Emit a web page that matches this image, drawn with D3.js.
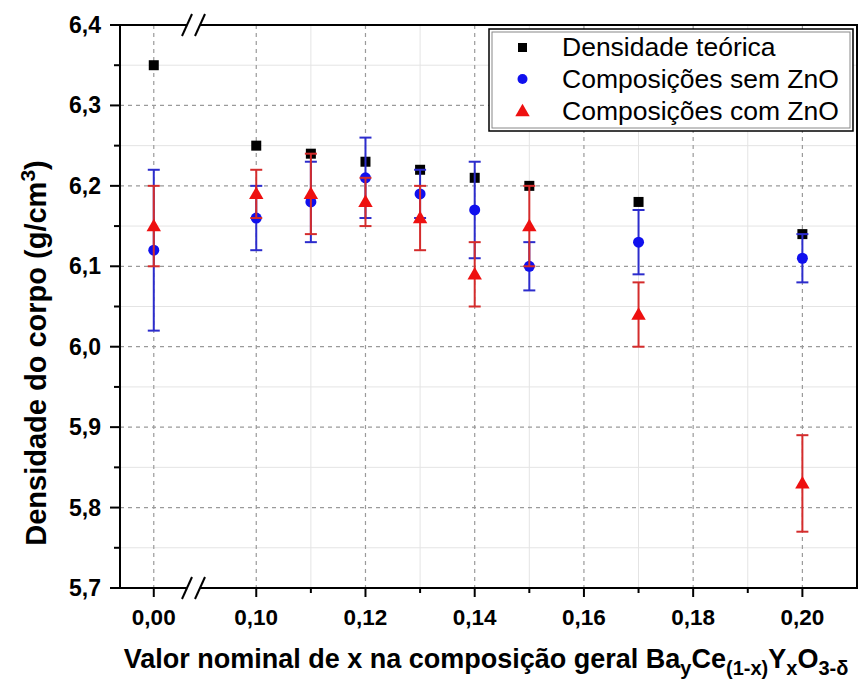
<!DOCTYPE html>
<html>
<head>
<meta charset="utf-8">
<script src="https://cdn.jsdelivr.net/npm/d3@7"></script>
<style>
  body { margin: 0; background: #fff; }
  svg { font-family: "Liberation Sans", Arial, sans-serif; }
</style>
</head>
<body>
<svg id="chart" width="865" height="684"></svg>
<script>
// values
var xValues = [0.00, 0.10, 0.11, 0.12, 0.13, 0.14, 0.15, 0.17, 0.20];
var densTeorica = [6.35, 6.25, 6.24, 6.23, 6.22, 6.21, 6.20, 6.18, 6.14];
var semZnO = [6.12, 6.16, 6.18, 6.21, 6.19, 6.17, 6.10, 6.13, 6.11];
var semZnOErr = [0.10, 0.04, 0.05, 0.05, 0.03, 0.06, 0.03, 0.04, 0.03];
var comZnO = [6.15, 6.19, 6.19, 6.18, 6.16, 6.09, 6.15, 6.04, 5.83];
var comZnOErr = [0.05, 0.03, 0.05, 0.03, 0.04, 0.04, 0.05, 0.04, 0.06];

var xMajor = [0.00, 0.10, 0.12, 0.14, 0.16, 0.18, 0.20];
var xMinor = [0.11, 0.13, 0.15, 0.17, 0.19];
var yMajor = [5.7, 5.8, 5.9, 6.0, 6.1, 6.2, 6.3, 6.4];
var yMinor = [5.75, 5.85, 5.95, 6.05, 6.15, 6.25, 6.35];
var legendLabels = ["Densidade teórica", "Composições sem ZnO", "Composições com ZnO"];

var svg = d3.select("#chart");
var pLeft = 120, pRight = 857, pTop = 25, pBottom = 588;
var breakL = 187, breakR = 200;

// broken x axis: two linear pieces
var x = d3.scaleLinear()
  .domain([-0.0062, 0.0061, 0.0897, 0.21])
  .range([pLeft, breakL, breakR, pRight]);
var y = d3.scaleLinear().domain([5.7, 6.4]).range([pBottom, pTop]);
var fmt = function (v, n) { return v.toFixed(n).replace(".", ","); };

// grid
var grid = svg.append("g");
grid.selectAll(".vmin").data(xMinor).enter().append("line")
  .attr("x1", x).attr("x2", x).attr("y1", pTop).attr("y2", pBottom)
  .attr("stroke", "#e4e4e4").attr("stroke-width", 1);
grid.selectAll(".hmin").data(yMinor).enter().append("line")
  .attr("x1", pLeft).attr("x2", pRight).attr("y1", y).attr("y2", y)
  .attr("stroke", "#e4e4e4").attr("stroke-width", 1);
grid.selectAll(".vmaj").data(xMajor).enter().append("line")
  .attr("x1", x).attr("x2", x).attr("y1", pTop).attr("y2", pBottom)
  .attr("stroke", "#9a9a9a").attr("stroke-width", 1.2).attr("stroke-dasharray", "4,4");
grid.selectAll(".hmaj").data(yMajor.slice(1, -1)).enter().append("line")
  .attr("x1", pLeft).attr("x2", pRight).attr("y1", y).attr("y2", y)
  .attr("stroke", "#9a9a9a").attr("stroke-width", 1.2).attr("stroke-dasharray", "4,4");

// frame
var frame = svg.append("g").attr("stroke", "#000").attr("stroke-width", 2).attr("fill", "none");
frame.append("line").attr("x1", pLeft).attr("x2", pLeft).attr("y1", pTop - 1).attr("y2", pBottom + 1);
frame.append("line").attr("x1", pRight).attr("x2", pRight).attr("y1", pTop - 1).attr("y2", pBottom + 1);
[pTop, pBottom].forEach(function (yy) {
  frame.append("line").attr("x1", pLeft).attr("x2", breakL).attr("y1", yy).attr("y2", yy);
  frame.append("line").attr("x1", breakR).attr("x2", pRight).attr("y1", yy).attr("y2", yy);
  frame.append("line").attr("x1", breakL - 5).attr("x2", breakL + 5).attr("y1", yy + 11).attr("y2", yy - 11);
  frame.append("line").attr("x1", breakR - 5).attr("x2", breakR + 5).attr("y1", yy + 11).attr("y2", yy - 11);
});

// ticks
var ax = svg.append("g").attr("stroke", "#000").attr("stroke-width", 2);
ax.selectAll(".xt").data(xMajor).enter().append("line")
  .attr("x1", x).attr("x2", x).attr("y1", pBottom).attr("y2", pBottom + 9);
ax.selectAll(".xm").data(xMinor).enter().append("line")
  .attr("x1", x).attr("x2", x).attr("y1", pBottom).attr("y2", pBottom + 5);
ax.selectAll(".yt").data(yMajor).enter().append("line")
  .attr("x1", pLeft - 10).attr("x2", pLeft).attr("y1", y).attr("y2", y);
ax.selectAll(".ym").data(yMinor).enter().append("line")
  .attr("x1", pLeft - 6).attr("x2", pLeft).attr("y1", y).attr("y2", y);

svg.selectAll(".xl").data(xMajor).enter().append("text")
  .attr("x", x).attr("y", pBottom + 37)
  .attr("text-anchor", "middle").attr("font-size", 22.5).attr("font-weight", "bold")
  .text(function (d) { return fmt(d, 2); });
svg.selectAll(".yl").data(yMajor).enter().append("text")
  .attr("x", pLeft - 19).attr("y", function (d) { return y(d) + 8; })
  .attr("text-anchor", "end").attr("font-size", 23).attr("font-weight", "bold")
  .text(function (d) { return fmt(d, 1); });

// axis titles
var xt = svg.append("text").attr("x", 486).attr("y", 668)
  .attr("text-anchor", "middle").attr("font-size", 27).attr("font-weight", "bold");
xt.append("tspan").text("Valor nominal de x na composição geral Ba");
xt.append("tspan").attr("font-size", 20).attr("dy", 7).text("y");
xt.append("tspan").attr("dy", -7).text("Ce");
xt.append("tspan").attr("font-size", 20).attr("dy", 7).text("(1-x)");
xt.append("tspan").attr("dy", -7).text("Y");
xt.append("tspan").attr("font-size", 20).attr("dy", 7).text("x");
xt.append("tspan").attr("dy", -7).text("O");
xt.append("tspan").attr("font-size", 20).attr("dy", 7).text("3-δ");

var yt = svg.append("text").attr("transform", "translate(46,353) rotate(-90)")
  .attr("text-anchor", "middle").attr("font-size", 29).attr("font-weight", "bold");
yt.append("tspan").text("Densidade do corpo (g/cm");
yt.append("tspan").attr("font-size", 21).attr("dy", -11).text("3");
yt.append("tspan").attr("dy", 11).text(")");

// series
var idx = d3.range(xValues.length);
var blue = "#1010ee", blueBar = "#2c2ccc", red = "#ee1010", redBar = "#d42c2c";

svg.append("g").selectAll("rect").data(idx).enter().append("rect")
  .attr("x", function (i) { return x(xValues[i]) - 5; })
  .attr("y", function (i) { return y(densTeorica[i]) - 5; })
  .attr("width", 10).attr("height", 10).attr("fill", "#000");

function errorBars(vals, errs, color) {
  var g = svg.append("g").attr("stroke", color).attr("stroke-width", 2);
  g.selectAll(".v").data(idx).enter().append("line")
    .attr("x1", function (i) { return x(xValues[i]); })
    .attr("x2", function (i) { return x(xValues[i]); })
    .attr("y1", function (i) { return y(vals[i] - errs[i]); })
    .attr("y2", function (i) { return y(vals[i] + errs[i]); });
  [-1, 1].forEach(function (s) {
    g.selectAll(".c" + s).data(idx).enter().append("line")
      .attr("x1", function (i) { return x(xValues[i]) - 6; })
      .attr("x2", function (i) { return x(xValues[i]) + 6; })
      .attr("y1", function (i) { return y(vals[i] + s * errs[i]); })
      .attr("y2", function (i) { return y(vals[i] + s * errs[i]); });
  });
}

errorBars(semZnO, semZnOErr, blueBar);
svg.append("g").selectAll("circle").data(idx).enter().append("circle")
  .attr("cx", function (i) { return x(xValues[i]); })
  .attr("cy", function (i) { return y(semZnO[i]); })
  .attr("r", 5.5).attr("fill", blue);

errorBars(comZnO, comZnOErr, redBar);
var tri = d3.symbol().type(d3.symbolTriangle).size(90);
svg.append("g").selectAll("path").data(idx).enter().append("path")
  .attr("d", tri)
  .attr("transform", function (i) { return "translate(" + x(xValues[i]) + "," + (y(comZnO[i]) + 1) + ")"; })
  .attr("fill", red);

// legend
var lg = svg.append("g");
lg.append("rect").attr("x", 489).attr("y", 29).attr("width", 364).attr("height", 102)
  .attr("fill", "#fff").attr("stroke", "#000").attr("stroke-width", 1.5);
lg.append("rect").attr("x", 492).attr("y", 32).attr("width", 358).attr("height", 96)
  .attr("fill", "none").attr("stroke", "#888").attr("stroke-width", 1);
var rowY = [47, 79, 111];
lg.append("rect").attr("x", 518).attr("y", rowY[0] - 4).attr("width", 9).attr("height", 9).attr("fill", "#000");
lg.append("circle").attr("cx", 522.5).attr("cy", rowY[1]).attr("r", 5).attr("fill", blue);
lg.append("path").attr("d", tri).attr("transform", "translate(522.5," + (rowY[2] + 1) + ")").attr("fill", red);
lg.selectAll("text").data(legendLabels).enter().append("text")
  .attr("x", 562).attr("y", function (d, i) { return rowY[i] + 9; })
  .attr("font-size", 26.5).text(function (d) { return d; });
</script>
</body>
</html>
